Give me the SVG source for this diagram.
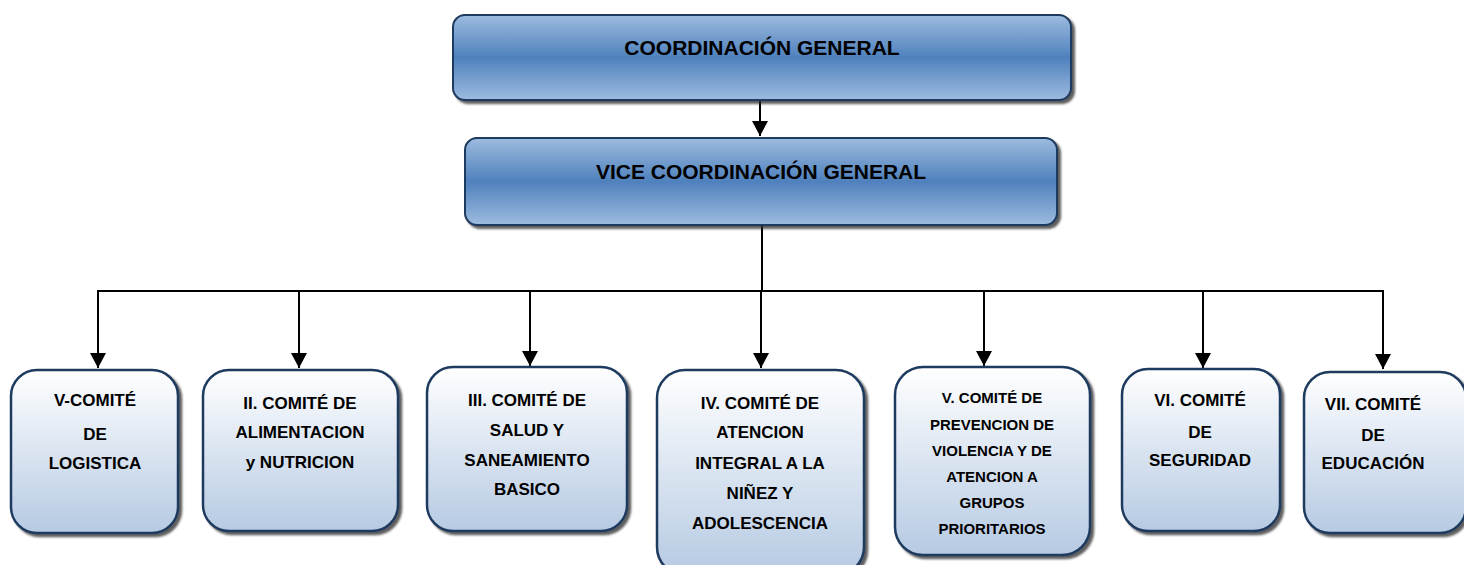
<svg xmlns="http://www.w3.org/2000/svg" width="1464" height="565" viewBox="0 0 1464 565">
<defs>
<linearGradient id="gTop" x1="0" y1="0" x2="0" y2="1">
<stop offset="0" stop-color="#9dbbdf"/>
<stop offset="0.5" stop-color="#4f81bd"/>
<stop offset="1" stop-color="#9dbbdf"/>
</linearGradient>
<linearGradient id="gChild" x1="0" y1="0" x2="0" y2="1">
<stop offset="0" stop-color="#ffffff"/>
<stop offset="1" stop-color="#b6cae3"/>
</linearGradient>
<filter id="sh" x="-10%" y="-10%" width="120%" height="130%">
<feDropShadow dx="3" dy="3" stdDeviation="1.2" flood-color="#2a2a2a" flood-opacity="0.75"/>
</filter>
<marker id="arr" markerWidth="15" markerHeight="16" refX="15" refY="8" orient="auto" markerUnits="userSpaceOnUse" viewBox="0 0 15 16">
<path d="M0,0 L15,8 L0,16 Z" fill="#000"/>
</marker>
</defs>
<style>
.top{fill:url(#gTop);stroke:#1f3a5f;stroke-width:2;filter:url(#sh)}
.child{fill:url(#gChild);stroke:#1f3a5f;stroke-width:2.5;filter:url(#sh)}
.t{font-family:"Liberation Sans",Arial,sans-serif;font-weight:bold;fill:#000;text-anchor:middle}
.tb{font-size:21px}
.tc{font-size:17px}
.ts{font-size:15px}
.ln{stroke:#000;stroke-width:2;fill:none}
</style>

<g id="connectors">
<line class="ln" x1="760" y1="101" x2="760" y2="136" marker-end="url(#arr)"/>
<line class="ln" x1="762" y1="226" x2="762" y2="291"/>
<line class="ln" x1="97" y1="291" x2="1384" y2="291"/>
<line class="ln" x1="98" y1="291" x2="98" y2="368" marker-end="url(#arr)"/>
<line class="ln" x1="299" y1="291" x2="299" y2="368" marker-end="url(#arr)"/>
<line class="ln" x1="530" y1="291" x2="530" y2="366" marker-end="url(#arr)"/>
<line class="ln" x1="761" y1="291" x2="761" y2="368" marker-end="url(#arr)"/>
<line class="ln" x1="984" y1="291" x2="984" y2="366" marker-end="url(#arr)"/>
<line class="ln" x1="1203" y1="291" x2="1203" y2="368" marker-end="url(#arr)"/>
<line class="ln" x1="1383" y1="291" x2="1383" y2="369" marker-end="url(#arr)"/>
</g>

<g id="coordinacion">
<rect class="top" x="453" y="15" width="618" height="85" rx="12"/>
<text class="t tb" x="762" y="55">COORDINACIÓN GENERAL</text>
</g>

<g id="vice">
<rect class="top" x="465" y="138" width="592" height="87" rx="12"/>
<text class="t tb" x="761" y="179">VICE COORDINACIÓN GENERAL</text>
</g>

<g id="c1">
<rect class="child" x="11" y="370" width="167" height="163" rx="26"/>
<text class="t tc" x="95" y="406">V-COMITÉ</text>
<text class="t tc" x="95" y="440">DE</text>
<text class="t tc" x="95" y="469">LOGISTICA</text>
</g>

<g id="c2">
<rect class="child" x="203" y="370" width="195" height="161" rx="26"/>
<text class="t tc" x="300" y="409">II. COMITÉ DE</text>
<text class="t tc" x="300" y="438">ALIMENTACION</text>
<text class="t tc" x="300" y="468">y NUTRICION</text>
</g>

<g id="c3">
<rect class="child" x="427" y="367" width="200" height="164" rx="26"/>
<text class="t tc" x="527" y="406">III. COMITÉ DE</text>
<text class="t tc" x="527" y="436">SALUD Y</text>
<text class="t tc" x="527" y="466">SANEAMIENTO</text>
<text class="t tc" x="527" y="495">BASICO</text>
</g>

<g id="c4">
<rect class="child" x="657" y="370" width="207" height="205" rx="28"/>
<text class="t tc" x="760" y="409">IV. COMITÉ DE</text>
<text class="t tc" x="760" y="438">ATENCION</text>
<text class="t tc" x="760" y="469">INTEGRAL A LA</text>
<text class="t tc" x="760" y="499">NIÑEZ Y</text>
<text class="t tc" x="760" y="529">ADOLESCENCIA</text>
</g>

<g id="c5">
<rect class="child" x="895" y="367" width="195" height="188" rx="28"/>
<text class="t ts" x="992" y="403">V. COMITÉ DE</text>
<text class="t ts" x="992" y="430">PREVENCION DE</text>
<text class="t ts" x="992" y="456">VIOLENCIA Y DE</text>
<text class="t ts" x="992" y="482">ATENCION A</text>
<text class="t ts" x="992" y="508">GRUPOS</text>
<text class="t ts" x="992" y="534">PRIORITARIOS</text>
</g>

<g id="c6">
<rect class="child" x="1122" y="369" width="158" height="162" rx="26"/>
<text class="t tc" x="1200" y="406">VI. COMITÉ</text>
<text class="t tc" x="1200" y="438">DE</text>
<text class="t tc" x="1200" y="466">SEGURIDAD</text>
</g>

<g id="c7">
<rect class="child" x="1304" y="372" width="162" height="161" rx="26"/>
<text class="t tc" x="1373" y="410">VII. COMITÉ</text>
<text class="t tc" x="1373" y="441">DE</text>
<text class="t tc" x="1373" y="469">EDUCACIÓN</text>
</g>
</svg>
